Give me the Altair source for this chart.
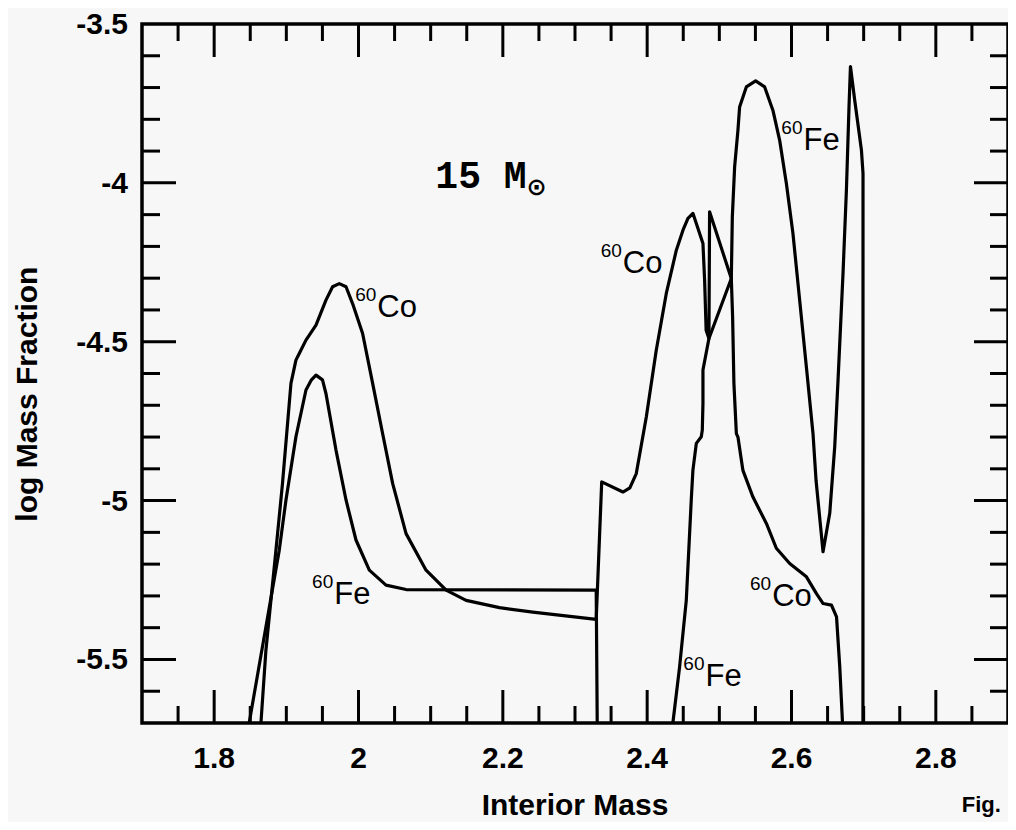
import altair as alt
import pandas as pd

# ---------------- data ----------------
# 60Co: one continuous curve (interior mass, log mass fraction)
co_mass = [1.8648, 1.8717, 1.8856, 1.8947, 1.9064, 1.9133, 1.9179, 1.9272, 1.9411, 1.9549,
           1.9641, 1.9734, 1.9827, 1.9918, 2.0057, 2.0196, 2.0334, 2.0473, 2.0659, 2.0936,
           2.1214, 2.1491, 2.1953, 2.2415, 2.3294, 2.3370, 2.3664, 2.3760, 2.3849, 2.3988,
           2.4126, 2.4265, 2.4404, 2.4496, 2.4565, 2.4634, 2.4773, 2.4796, 2.4817, 2.4856,
           2.4865, 2.5166, 2.5184, 2.5202, 2.5236, 2.5258, 2.5327, 2.5466, 2.5652, 2.5790,
           2.5975, 2.6207, 2.6346, 2.6438, 2.6554, 2.6624, 2.6669, 2.6707]
co_logx = [-5.700, -5.471, -5.156, -4.946, -4.631, -4.558, -4.537, -4.495, -4.448, -4.369,
           -4.327, -4.317, -4.327, -4.380, -4.474, -4.631, -4.789, -4.946, -5.104, -5.219,
           -5.282, -5.314, -5.337, -5.351, -5.374, -4.941, -4.973, -4.960, -4.915, -4.737,
           -4.527, -4.348, -4.212, -4.149, -4.112, -4.096, -4.191, -4.306, -4.464, -4.490,
           -4.091, -4.301, -4.422, -4.631, -4.789, -4.800, -4.905, -4.989, -5.072, -5.150,
           -5.198, -5.240, -5.293, -5.324, -5.329, -5.366, -5.524, -5.700]

# 60Fe: inner piece
fe_in_mass = [1.8485, 1.8902, 1.8995, 1.9133, 1.9272, 1.9348, 1.9411, 1.9501, 1.9549, 1.9688,
              1.9827, 1.9965, 2.0150, 2.0381, 2.0659, 2.3294, 2.3308]
fe_in_logx = [-5.700, -5.156, -4.998, -4.799, -4.652, -4.620, -4.605, -4.620, -4.663, -4.841,
              -4.998, -5.124, -5.219, -5.266, -5.280, -5.282, -5.700]

# 60Fe: outer piece
fe_out_mass = [2.4356, 2.4449, 2.4542, 2.4611, 2.4634, 2.4681, 2.4750, 2.4764, 2.4773, 2.4773,
               2.4856, 2.5166, 2.5180, 2.5212, 2.5258, 2.5281, 2.5374, 2.5503, 2.5628, 2.5743,
               2.5836, 2.5929, 2.6020, 2.6113, 2.6206, 2.6298, 2.6340, 2.6437, 2.6530, 2.6599,
               2.6645, 2.6714, 2.6761, 2.6797, 2.6817, 2.6876, 2.6969, 2.6991, 2.6990]
fe_out_logx = [-5.700, -5.524, -5.314, -4.998, -4.904, -4.820, -4.799, -4.778, -4.694, -4.589,
               -4.490, -4.301, -4.107, -3.950, -3.834, -3.761, -3.698, -3.679, -3.698, -3.772,
               -3.866, -4.002, -4.159, -4.369, -4.579, -4.789, -4.936, -5.161, -5.040, -4.830,
               -4.620, -4.284, -4.022, -3.760, -3.634, -3.740, -3.897, -3.970, -5.700]

# axes
x_domain = [1.7, 2.9]
y_domain = [-5.7, -3.5]
x_label_values = [1.8, 2.0, 2.2, 2.4, 2.6, 2.8]
x_label_texts = ["1.8", "2", "2.2", "2.4", "2.6", "2.8"]
y_label_values = [-3.5, -4.0, -4.5, -5.0, -5.5]
y_label_texts = ["-3.5", "-4", "-4.5", "-5", "-5.5"]
x_major_ticks = [1.8, 2.0, 2.2, 2.4, 2.6, 2.8]
x_minor_ticks = [1.75, 1.85, 1.9, 1.95, 2.05, 2.1, 2.15, 2.25, 2.3, 2.35, 2.45,
                 2.5, 2.55, 2.65, 2.7, 2.75, 2.85]
y_major_ticks = [-4.0, -4.5, -5.0, -5.5]
y_minor_ticks = [-3.6, -3.7, -3.8, -3.9, -4.1, -4.2, -4.3, -4.4, -4.6, -4.7, -4.8,
                 -4.9, -5.1, -5.2, -5.3, -5.4, -5.6]
x_title = "Interior Mass"
y_title = "log Mass Fraction"
x_title_at = 2.3       # centre of the x range
y_title_at = -4.665    # centre of the y title (data units)
y_title_x = 1.5545     # x position of the rotated y title (data units, left of the frame)

# curve labels (element, mass number, anchor in data coordinates)
iso_names = ["Co", "Fe", "Co", "Fe", "Co", "Fe"]
iso_mass_numbers = ["60", "60", "60", "60", "60", "60"]
iso_label_mass = [2.0261, 1.9664, 2.3663, 2.6166, 2.5732, 2.4808]
iso_label_logx = [-4.422, -5.326, -4.283, -3.897, -5.332, -5.584]

# "15 M☉" note
note_texts = ["15 M"]
note_mass = [2.1065]
note_logx = [-4.0176]
sun_symbol = ["⊙"]
sun_mass = [2.2466]
sun_logx = [-4.0176]

fig_text = ["Fig."]
fig_mass = [2.836]
fig_logx = [-5.981]

# ---------------- build chart ----------------
rows = []
for seg, xs_, ys_ in [("co", co_mass, co_logx), ("fe_in", fe_in_mass, fe_in_logx),
                      ("fe_out", fe_out_mass, fe_out_logx)]:
    for i, (a, b) in enumerate(zip(xs_, ys_)):
        rows.append({"seg": seg, "i": i, "m": a, "f": b})
curves = pd.DataFrame(rows)

XS = alt.Scale(domain=x_domain, nice=False, zero=False)
YS = alt.Scale(domain=y_domain, nice=False, zero=False)
SANS = "Liberation Sans"

lines = alt.Chart(curves).mark_line(color="black", strokeWidth=3.2, clip=True,
                                    strokeJoin="round", strokeCap="round").encode(
    x=alt.X("m:Q", scale=XS, axis=None),
    y=alt.Y("f:Q", scale=YS, axis=None),
    detail="seg:N",
    order="i:Q",
)


def x_ticks(vals, edge, off):
    return alt.Chart(pd.DataFrame({"v": vals})).mark_rule(
        color="black", strokeWidth=3, y2Offset=off).encode(
        x=alt.X("v:Q", scale=XS, axis=None),
        y=alt.YDatum(edge, axis=None),
        y2=alt.Y2Datum(edge),
    )


def y_ticks(vals, edge, off):
    return alt.Chart(pd.DataFrame({"v": vals})).mark_rule(
        color="black", strokeWidth=3, x2Offset=off).encode(
        y=alt.Y("v:Q", scale=YS, axis=None),
        x=alt.XDatum(edge, axis=None),
        x2=alt.X2Datum(edge),
    )


ticks = [
    x_ticks(x_major_ticks, y_domain[0], -33), x_ticks(x_minor_ticks, y_domain[0], -17),
    x_ticks(x_major_ticks, y_domain[1], 33), x_ticks(x_minor_ticks, y_domain[1], 17),
    y_ticks(y_major_ticks, x_domain[0], 34), y_ticks(y_minor_ticks, x_domain[0], 18),
    y_ticks(y_major_ticks, x_domain[1], -34), y_ticks(y_minor_ticks, x_domain[1], -18),
]

# tick labels and axis titles
x_labels = alt.Chart(pd.DataFrame({"v": x_label_values, "t": x_label_texts})).mark_text(
    align="center", baseline="alphabetic", dy=45, font=SANS, fontSize=30,
    fontWeight="bold", color="black").encode(
    x=alt.X("v:Q", scale=XS, axis=None), y=alt.YDatum(y_domain[0], axis=None), text="t:N")
y_labels = alt.Chart(pd.DataFrame({"v": y_label_values, "t": y_label_texts})).mark_text(
    align="right", baseline="middle", dx=-14, dy=1, font=SANS, fontSize=30,
    fontWeight="bold", color="black").encode(
    y=alt.Y("v:Q", scale=YS, axis=None), x=alt.XDatum(x_domain[0], axis=None), text="t:N")
x_title_mark = alt.Chart(pd.DataFrame({"t": [x_title]})).mark_text(
    align="center", baseline="alphabetic", dy=92, font=SANS, fontSize=30,
    fontWeight="bold", color="black").encode(
    x=alt.XDatum(x_title_at, axis=None), y=alt.YDatum(y_domain[0], axis=None), text="t:N")
y_title_mark = alt.Chart(pd.DataFrame({"t": [y_title]})).mark_text(
    align="center", baseline="alphabetic", angle=270, font=SANS, fontSize=30,
    fontWeight="bold", color="black").encode(
    x=alt.XDatum(y_title_x, axis=None), y=alt.YDatum(y_title_at, axis=None), text="t:N")

lab_df = pd.DataFrame({"m": iso_label_mass, "f": iso_label_logx,
                       "name": iso_names, "a": iso_mass_numbers})
lab_main = alt.Chart(lab_df).mark_text(align="left", baseline="alphabetic", font=SANS,
                                       fontSize=31, color="black").encode(
    x=alt.X("m:Q", scale=XS, axis=None), y=alt.Y("f:Q", scale=YS, axis=None), text="name:N")
lab_sup = alt.Chart(lab_df).mark_text(align="right", baseline="alphabetic", font=SANS,
                                      fontSize=19, dx=-1, dy=-16, color="black").encode(
    x=alt.X("m:Q", scale=XS, axis=None), y=alt.Y("f:Q", scale=YS, axis=None), text="a:N")

note = alt.Chart(pd.DataFrame({"m": note_mass, "f": note_logx, "t": note_texts})).mark_text(
    align="left", baseline="alphabetic", font="Liberation Mono", fontWeight="bold",
    fontSize=38, color="black").encode(
    x=alt.X("m:Q", scale=XS, axis=None), y=alt.Y("f:Q", scale=YS, axis=None), text="t:N")
sun = alt.Chart(pd.DataFrame({"m": sun_mass, "f": sun_logx, "t": sun_symbol})).mark_text(
    align="center", baseline="middle", font="DejaVu Sans", fontWeight="bold",
    fontSize=24, color="black").encode(
    x=alt.X("m:Q", scale=XS, axis=None), y=alt.Y("f:Q", scale=YS, axis=None), text="t:N")
fig = alt.Chart(pd.DataFrame({"m": fig_mass, "f": fig_logx, "t": fig_text})).mark_text(
    align="left", baseline="alphabetic", font=SANS, fontWeight="bold",
    fontSize=22, color="black").encode(
    x=alt.X("m:Q", scale=XS, axis=None), y=alt.Y("f:Q", scale=YS, axis=None), text="t:N")

chart = alt.layer(lines, *ticks, x_labels, y_labels, x_title_mark, y_title_mark,
                  lab_main, lab_sup, note, sun, fig).properties(
    width=866, height=699,
    padding={"left": 134, "top": 16, "right": 0, "bottom": 99},
    autosize=alt.AutoSizeParams(type="none"),
    background="#f7f7f7",
).configure_view(stroke="black", strokeWidth=3.5)

chart.save("out.html", embed_options={"renderer": "svg", "actions": False})
